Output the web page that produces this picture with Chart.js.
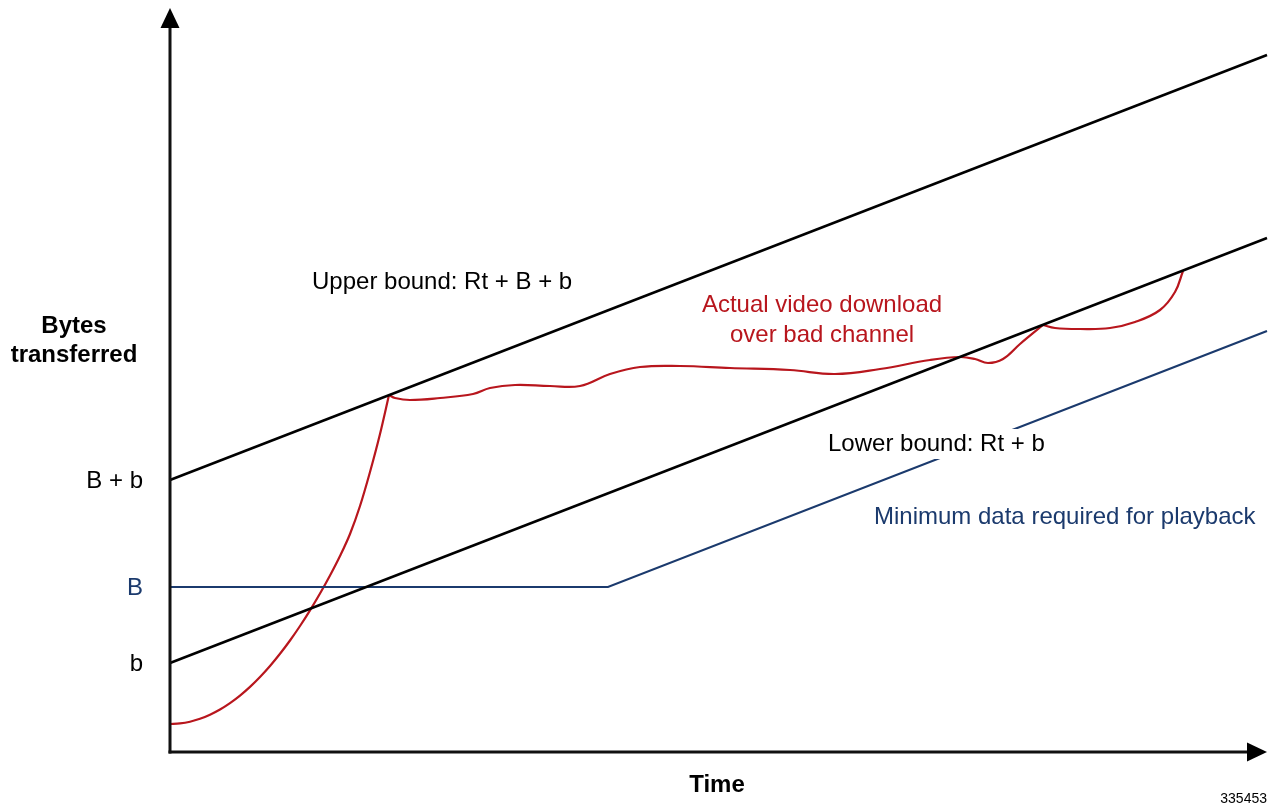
<!DOCTYPE html>
<html>
<head>
<meta charset="utf-8">
<script src="https://cdn.jsdelivr.net/npm/chart.js@4/dist/chart.umd.min.js"></script>
<style>
html,body{margin:0;padding:0;background:#fff;}
#wrap{width:1273px;height:806px;}
</style>
</head>
<body>
<div id="wrap"><canvas id="c" width="1273" height="806"></canvas></div>
<script>
// Axis ranges (arbitrary units: time / bytes)
const xMax = 1097;
const yMax = 742;

// Upper bound: Rt + B + b
const upperX = [0, 1097];
const upperY = [272, 697];
// Lower bound: Rt + b
const lowerX = [0, 1097];
const lowerY = [89, 514];
// Minimum data required for playback
const minX = [0, 438, 1097];
const minY = [165, 165, 421];
// Actual video download over bad channel (three pieces)
const red1X = [0, 10, 20, 30, 40, 50, 60, 70, 80, 90, 100, 110, 120, 130, 140, 150, 160, 170, 180, 190, 200, 210, 219];
const red1Y = [28, 28.6, 30.3, 33.2, 37.3, 42.5, 48.9, 56.4, 65.1, 75, 86, 98.2, 111.5, 126, 141.7, 158.5, 176.5, 196, 218, 246, 280, 318, 357];
const red2X = [219, 225, 240, 270, 303, 320, 345, 380, 410, 440, 470, 510, 560, 620, 665, 710, 760, 790, 805, 818, 833, 850, 873];
const red2Y = [357, 354, 352, 354, 358, 364, 367, 366, 366, 378, 385, 386, 384, 382, 378, 383, 392, 395, 393, 389, 393, 408, 427];
const red3X = [873, 885, 910, 940, 965, 990, 1005, 1013];
const red3Y = [427, 424, 423, 424, 430, 442, 460, 481];

// Y tick labels
const tickValues = [272, 165, 89];
const tickLabels = ['B + b', 'B', 'b'];

const BLACK = '#000000';
const RED = '#b8161d';
const BLUE = '#1b3a6d';
const FONT = '"Liberation Sans", Arial, sans-serif';

function pts(xs, ys){ return xs.map((x,i)=>({x:x, y:ys[i]})); }

const overlay = {
  id: 'overlay',
  afterDatasetsDraw(chart){
    const ctx = chart.ctx;
    const xs = chart.scales.x, ys = chart.scales.y;
    const x0 = xs.getPixelForValue(0), y0 = ys.getPixelForValue(0);
    const xr = xs.getPixelForValue(xMax), yt = ys.getPixelForValue(yMax);
    ctx.save();
    // axes
    ctx.strokeStyle = '#111'; ctx.fillStyle = '#000'; ctx.lineWidth = 3;
    ctx.beginPath(); ctx.moveTo(x0, y0 + 1.5); ctx.lineTo(x0, yt + 16); ctx.stroke();
    ctx.beginPath(); ctx.moveTo(x0 - 1.5, y0); ctx.lineTo(xr - 18, y0); ctx.stroke();
    ctx.beginPath(); ctx.moveTo(x0, yt - 2); ctx.lineTo(x0 - 9.5, yt + 18); ctx.lineTo(x0 + 9.5, yt + 18); ctx.closePath(); ctx.fill();
    ctx.beginPath(); ctx.moveTo(xr, y0); ctx.lineTo(xr - 20, y0 - 9.5); ctx.lineTo(xr - 20, y0 + 9.5); ctx.closePath(); ctx.fill();

    // tick labels
    ctx.font = '24px ' + FONT; ctx.textAlign = 'right'; ctx.textBaseline = 'middle';
    tickValues.forEach((v, i) => {
      ctx.fillStyle = tickLabels[i] === 'B' ? BLUE : BLACK;
      ctx.fillText(tickLabels[i], x0 - 27, ys.getPixelForValue(v) + 1);
    });

    // axis titles
    ctx.fillStyle = BLACK; ctx.textAlign = 'center';
    ctx.font = 'bold 24px ' + FONT;
    ctx.fillText('Bytes', 74, 326);
    ctx.fillText('transferred', 74, 355);
    ctx.fillText('Time', 717, 785);

    // annotations
    ctx.font = '24px ' + FONT; ctx.textAlign = 'left';
    ctx.fillText('Upper bound: Rt + B + b', 312, 282);
    // lower bound label with white background
    ctx.fillStyle = '#fff';
    const lw = ctx.measureText('Lower bound: Rt + b').width;
    ctx.fillRect(824, 429, lw + 8, 30);
    ctx.fillStyle = BLACK;
    ctx.fillText('Lower bound: Rt + b', 828, 444);
    ctx.fillStyle = RED; ctx.textAlign = 'center';
    ctx.fillText('Actual video download', 822, 305);
    ctx.fillText('over bad channel', 822, 335);
    ctx.fillStyle = BLUE; ctx.textAlign = 'left';
    ctx.fillText('Minimum data required for playback', 874, 517);

    ctx.fillStyle = BLACK; ctx.textAlign = 'right';
    ctx.font = '14px ' + FONT;
    ctx.fillText('335453', 1267, 799);
    ctx.restore();
  }
};

function ds(data, color, width, tension){
  return {data: data, borderColor: color, borderWidth: width, showLine: true, pointRadius: 0, fill: false, clip: false, tension: tension || 0};
}

const datasets = [
  ds(pts(upperX, upperY), BLACK, 2.5),
  ds(pts(lowerX, lowerY), BLACK, 2.5),
  ds(pts(minX, minY), BLUE, 2.2),
  Object.assign(ds(pts(red1X, red1Y), RED, 2.2), {cubicInterpolationMode: 'monotone'}),
  ds(pts(red2X, red2Y), RED, 2.2, 0.4),
  ds(pts(red3X, red3Y), RED, 2.2, 0.4)
];

new Chart(document.getElementById('c'), {
  type: 'scatter',
  data: {datasets: datasets},
  options: {
    responsive: false,
    animation: false,
    devicePixelRatio: 1,
    layout: {padding: {left: 170, right: 6, top: 10, bottom: 54}},
    plugins: {legend: {display: false}, tooltip: {enabled: false}},
    scales: {
      x: {type: 'linear', min: 0, max: xMax, display: false},
      y: {type: 'linear', min: 0, max: yMax, display: false}
    }
  },
  plugins: [overlay]
});
</script>
</body>
</html>
